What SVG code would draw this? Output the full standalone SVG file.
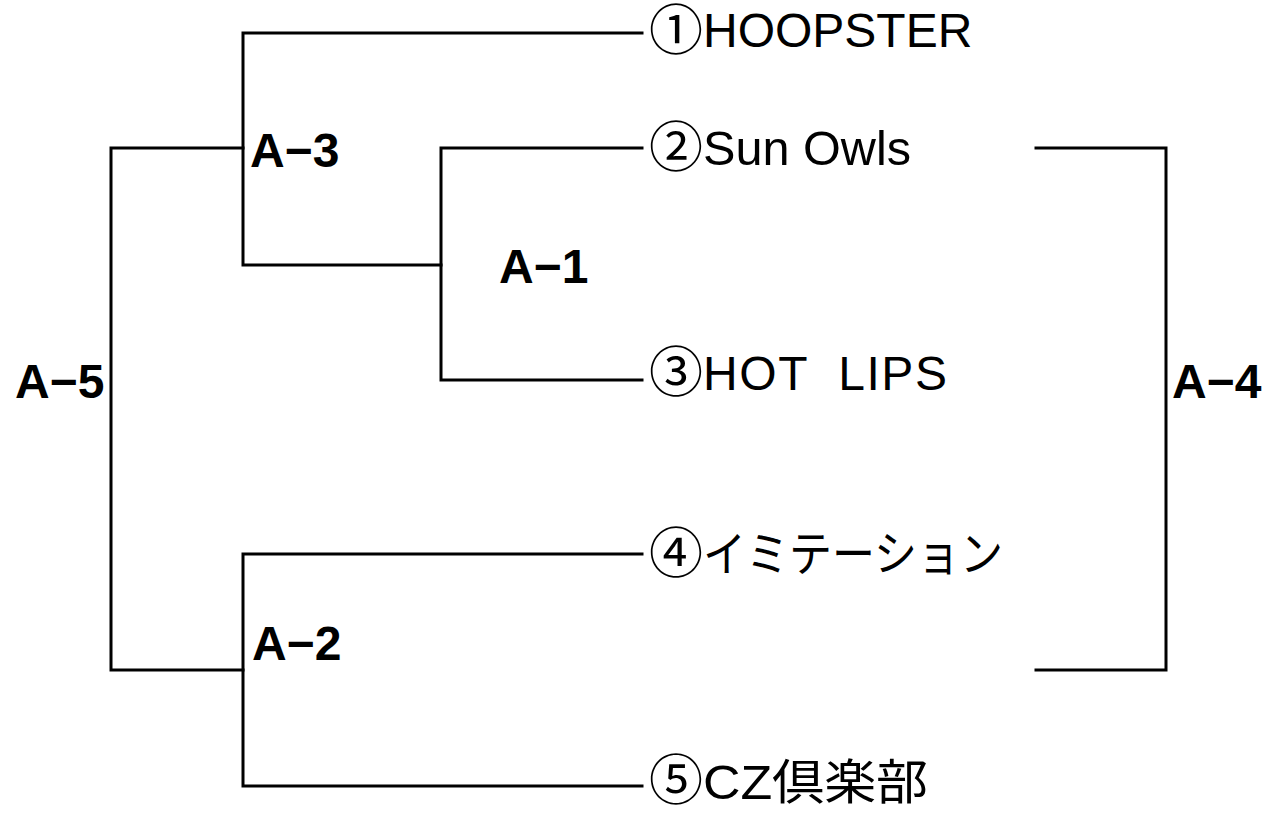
<svg xmlns="http://www.w3.org/2000/svg" width="1270" height="814" viewBox="0 0 1270 814">
<style>
.ln{fill:none;stroke:#000;stroke-width:3;stroke-linecap:square;stroke-linejoin:miter}
.team{font-family:"Liberation Sans","Noto Sans CJK JP",sans-serif;font-size:48px;fill:#000}
.num{font-family:"Noto Sans CJK JP",sans-serif;font-size:54px}
.jp{font-family:"Noto Sans CJK JP",sans-serif;font-size:48px}
.match{font-family:"Liberation Sans",Arial,sans-serif;font-size:48px;font-weight:bold;fill:#000}
</style>
<rect width="1270" height="814" fill="#fff"/>
<g id="connectors">
<path class="ln" d="M642,33 H243 V265 H441"/>
<path class="ln" d="M642,148 H441 V380 H642"/>
<path class="ln" d="M243,148 H111 V670 H243"/>
<path class="ln" d="M642,554 H243 V786 H642"/>
<path class="ln" d="M1036,148 H1166 V670 H1036"/>
</g>
<g id="team1"><text class="team" x="649" y="47"><tspan class="num" y="50">①</tspan><tspan x="703" y="47">HOOPSTER</tspan></text></g>
<g id="team2"><text class="team" x="649" y="165"><tspan class="num" y="167">②</tspan><tspan x="703" y="165" textLength="208" lengthAdjust="spacingAndGlyphs">Sun Owls</tspan></text></g>
<g id="team3"><text class="team" x="649" y="390" xml:space="preserve"><tspan class="num" y="392">③</tspan><tspan x="703" y="390" textLength="244" lengthAdjust="spacing">HOT  LIPS</tspan></text></g>
<g id="team4"><text class="team" x="649" y="571"><tspan class="num" y="573">④</tspan><tspan class="jp" x="703" y="571" textLength="300" lengthAdjust="spacingAndGlyphs">イミテーション</tspan></text></g>
<g id="team5"><text class="team" x="649" y="799"><tspan class="num" y="800">⑤</tspan><tspan x="703" y="799" textLength="225" lengthAdjust="spacingAndGlyphs">CZ倶楽部</tspan></text></g>
<g id="matchA1"><text class="match" x="499" y="283">A−1</text></g>
<g id="matchA2"><text class="match" x="252" y="660">A−2</text></g>
<g id="matchA3"><text class="match" x="250" y="167">A−3</text></g>
<g id="matchA4"><text class="match" x="1172" y="398">A−4</text></g>
<g id="matchA5"><text class="match" x="15" y="398">A−5</text></g>
</svg>
